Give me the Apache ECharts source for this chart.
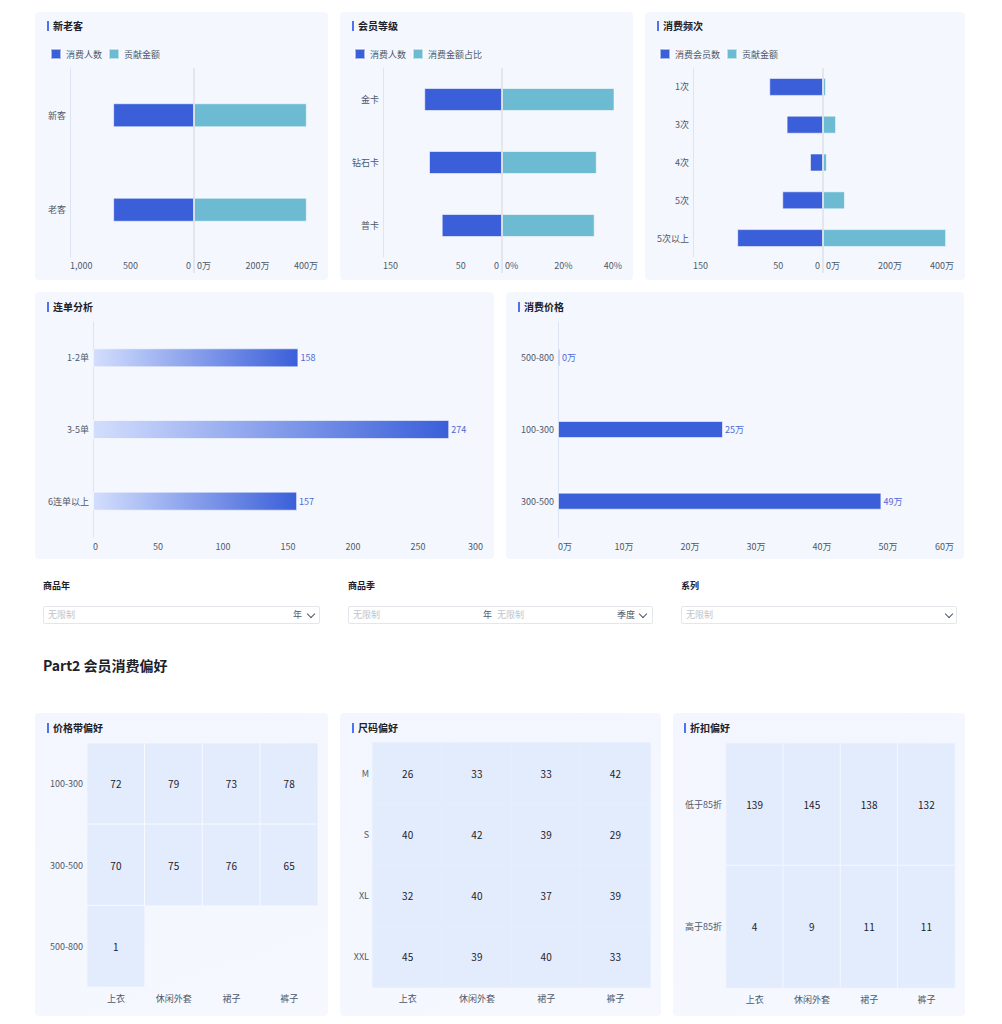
<!DOCTYPE html>
<html>
<head>
<meta charset="utf-8">
<script src="https://cdn.jsdelivr.net/npm/echarts@6/dist/echarts.min.js"></script>
<style>
html,body{margin:0;padding:0;background:#fff;}
#page{position:relative;width:1002px;height:1024px;overflow:hidden;font-family:"Noto Sans CJK SC","Noto Sans",sans-serif;}
.panel{position:absolute;background:#F4F7FE;border-radius:4px;}
.hpanel{position:absolute;background:linear-gradient(160deg,#F3F6FE 0%,#F6F8FE 100%);border-radius:4px;}
.ttl{position:absolute;font-size:10px;font-weight:bold;line-height:10px;color:#1d2129;border-left:2px solid #4F73F0;padding-left:4px;}
.flab{position:absolute;font-size:9px;font-weight:bold;color:#1d2129;line-height:12px;}
.box{position:absolute;background:#fff;border:1px solid #E5E6EB;border-radius:2px;box-sizing:border-box;}
.ph{position:absolute;font-size:9px;color:#C0C4CC;line-height:12px;}
.unit{position:absolute;font-size:9px;color:#4e5969;line-height:12px;}
.chev{position:absolute;width:5px;height:5px;border-right:1px solid #4e5969;border-bottom:1px solid #4e5969;transform:rotate(45deg);}
.h2{position:absolute;font-size:14px;font-weight:bold;color:#1d2129;line-height:18px;}
#c{position:absolute;left:0;top:0;width:1002px;height:1024px;}
</style>
</head>
<body>
<div id="page">
  <div class="panel" style="left:35px;top:12px;width:293px;height:268px"></div>
  <div class="panel" style="left:340px;top:12px;width:293px;height:268px"></div>
  <div class="panel" style="left:645px;top:12px;width:320px;height:268px"></div>
  <div class="panel" style="left:35px;top:292px;width:459px;height:267px"></div>
  <div class="panel" style="left:506px;top:292px;width:458px;height:267px"></div>
  <div class="hpanel" style="left:35px;top:713px;width:293px;height:303px"></div>
  <div class="hpanel" style="left:340px;top:713px;width:321px;height:303px"></div>
  <div class="hpanel" style="left:673px;top:713px;width:292px;height:303px"></div>

  <div class="ttl" style="left:47px;top:21px">新老客</div>
  <div class="ttl" style="left:352px;top:21px">会员等级</div>
  <div class="ttl" style="left:657px;top:21px">消费频次</div>
  <div class="ttl" style="left:47px;top:302px">连单分析</div>
  <div class="ttl" style="left:518px;top:302px">消费价格</div>
  <div class="ttl" style="left:47px;top:723px">价格带偏好</div>
  <div class="ttl" style="left:352px;top:723px">尺码偏好</div>
  <div class="ttl" style="left:684px;top:723px">折扣偏好</div>

  <div class="flab" style="left:43px;top:580px">商品年</div>
  <div class="flab" style="left:348px;top:580px">商品季</div>
  <div class="flab" style="left:681px;top:580px">系列</div>

  <div class="box" style="left:43px;top:606px;width:277px;height:18px"></div>
  <div class="ph" style="left:48px;top:609px">无限制</div>
  <div class="unit" style="left:293px;top:609px">年</div>
  <div class="chev" style="left:308px;top:611px"></div>

  <div class="box" style="left:348px;top:606px;width:305px;height:18px"></div>
  <div class="ph" style="left:353px;top:609px">无限制</div>
  <div class="unit" style="left:483px;top:609px">年</div>
  <div class="ph" style="left:497px;top:609px">无限制</div>
  <div class="unit" style="left:617px;top:609px">季度</div>
  <div class="chev" style="left:640px;top:611px"></div>

  <div class="box" style="left:681px;top:606px;width:276px;height:18px"></div>
  <div class="ph" style="left:686px;top:609px">无限制</div>
  <div class="chev" style="left:946px;top:611px"></div>

  <div class="h2" style="left:43px;top:656px">Part2 会员消费偏好</div>

  <div id="c"></div>
</div>
<script>
// ---------- data ----------
const newOldCats = ['新客', '老客'];
const newOldCount = [652, 652];
const newOldAmount = [364, 364]; // 万

const levelCats = ['金卡', '钻石卡', '普卡'];
const levelCount = [98, 92, 76];
const levelShare = [37.5, 31.6, 30.9]; // %

const freqCats = ['1次', '3次', '4次', '5次', '5次以上'];
const freqCount = [62, 42, 15, 47, 99];
const freqAmount = [9, 40, 12, 67, 376]; // 万

const comboCats = ['1-2单', '3-5单', '6连单以上'];
const comboValues = [158, 274, 157];

const priceCats = ['500-800', '100-300', '300-500'];
const priceValues = [0.3, 25, 49]; // 万

const products = ['上衣', '休闲外套', '裙子', '裤子'];
const priceBandRows = ['100-300', '300-500', '500-800'];
const priceBandValues = [
  [72, 79, 73, 78],
  [70, 75, 76, 65],
  [1, null, null, null]
];
const sizeRows = ['M', 'S', 'XL', 'XXL'];
const sizeValues = [
  [26, 33, 33, 42],
  [40, 42, 39, 29],
  [32, 40, 37, 39],
  [45, 39, 40, 33]
];
const discountRows = ['低于85折', '高于85折'];
const discountValues = [
  [139, 145, 138, 132],
  [4, 9, 11, 11]
];

// ---------- option building ----------
const FONT = '"Noto Sans CJK SC","Noto Sans",sans-serif';
const AX = '#4e5969';
const DARK = '#3A5FD9';
const TEAL = '#6CBBD3';
const grids = [], xAxes = [], yAxes = [], series = [], legends = [];
const catLabel = { fontSize: 9, color: AX, margin: 4, fontFamily: FONT };

function addGrid(g) {
  grids.push(Object.assign({ containLabel: false, outerBoundsMode: 'none' }, g));
  return grids.length - 1;
}
const barBorder = { borderColor: 'rgba(255,255,255,0.55)', borderWidth: 1 };

function butterfly(o) {
  const gl = addGrid({ left: o.x0, top: 68, width: o.mid - o.x0, height: 189 });
  const gr = addGrid({ left: o.mid, top: 68, width: o.x1 - o.mid, height: 189 });
  xAxes.push({
    gridIndex: gl, type: 'value', inverse: true, min: 0, max: o.lMax, interval: o.lInt,
    axisLine: { show: false }, axisTick: { show: false }, splitLine: { show: false },
    axisLabel: { fontSize: 9, color: AX, margin: 4, fontFamily: FONT, padding: [0, 3, 0, 0],
      alignMinLabel: 'right', alignMaxLabel: 'left', formatter: o.lFmt }
  });
  yAxes.push({
    gridIndex: gl, type: 'category', inverse: true, data: o.cats,
    axisLine: { show: true, onZero: false, lineStyle: { color: '#DCE4F6' } },
    axisTick: { show: false }, axisLabel: catLabel
  });
  xAxes.push({
    gridIndex: gr, type: 'value', min: 0, max: o.rMax, interval: o.rInt,
    axisLine: { show: false }, axisTick: { show: false }, splitLine: { show: false },
    axisLabel: { fontSize: 9, color: AX, margin: 4, fontFamily: FONT, padding: [0, 0, 0, 3],
      alignMinLabel: 'left', alignMaxLabel: 'right', formatter: o.rFmt }
  });
  yAxes.push({
    gridIndex: gr, type: 'category', inverse: true, data: o.cats,
    axisLine: { show: false }, axisTick: { show: false }, axisLabel: { show: false }
  });
  series.push({ type: 'bar', name: o.names[0], xAxisIndex: gl, yAxisIndex: gl, data: o.lVals, barWidth: o.bw,
    itemStyle: Object.assign({ color: DARK }, barBorder), emphasis: { disabled: true } });
  series.push({ type: 'bar', name: o.names[1], xAxisIndex: gr, yAxisIndex: gr, data: o.rVals, barWidth: o.bw,
    itemStyle: Object.assign({ color: TEAL }, barBorder), emphasis: { disabled: true } });
  legends.push({
    left: o.legendX, top: 48, padding: 0, itemWidth: 10, itemHeight: 10, itemGap: 6, icon: 'rect',
    selectedMode: false, data: o.names, textStyle: { fontSize: 9, color: AX, fontFamily: FONT }
  });
}

const wan = v => v + '万';
const comma = v => v.toLocaleString('en-US');
const skip100 = v => (v === 100 ? '' : String(v));

butterfly({ x0: 70, mid: 194, x1: 318, cats: newOldCats, lVals: newOldCount, rVals: newOldAmount,
  lMax: 1000, lInt: 500, rMax: 400, rInt: 200, lFmt: comma, rFmt: wan, names: ['消费人数', '贡献金额'], bw: 24, legendX: 50 });
butterfly({ x0: 383, mid: 502, x1: 622, cats: levelCats, lVals: levelCount, rVals: levelShare,
  lMax: 150, lInt: 50, rMax: 40, rInt: 20, lFmt: skip100, rFmt: v => v + '%', names: ['消费人数', '消费金额占比'], bw: 23, legendX: 354 });
butterfly({ x0: 693, mid: 823, x1: 954, cats: freqCats, lVals: freqCount, rVals: freqAmount,
  lMax: 150, lInt: 50, rMax: 400, rInt: 200, lFmt: skip100, rFmt: wan, names: ['消费会员数', '贡献金额'], bw: 18, legendX: 659 });

function hbar(o) {
  const g = addGrid({ left: o.x0, top: 322, width: o.x1 - o.x0, height: 215 });
  xAxes.push({
    gridIndex: g, type: 'value', min: 0, max: o.max, interval: o.int,
    axisLine: { show: false }, axisTick: { show: false }, splitLine: { show: false },
    axisLabel: { fontSize: 9, color: AX, margin: 5, fontFamily: FONT, alignMinLabel: 'left', alignMaxLabel: 'right', formatter: o.fmt }
  });
  yAxes.push({
    gridIndex: g, type: 'category', inverse: true, data: o.cats,
    axisLine: { show: true, onZero: false, lineStyle: { color: '#DCE4F6' } },
    axisTick: { show: false }, axisLabel: catLabel
  });
  series.push({
    type: 'bar', xAxisIndex: g, yAxisIndex: g, data: o.vals, barWidth: o.bw,
    itemStyle: Object.assign({ color: o.color }, barBorder), emphasis: { disabled: true },
    label: { show: true, position: 'right', distance: 2, fontSize: 9, color: '#4D68D6', fontFamily: FONT, formatter: o.lab }
  });
}

hbar({ x0: 93, x1: 483, cats: comboCats, vals: comboValues, max: 300, int: 50, fmt: v => String(v), bw: 19,
  color: new echarts.graphic.LinearGradient(0, 0, 1, 0, [{ offset: 0, color: '#D3DEFD' }, { offset: 1, color: '#3A5FD9' }]),
  lab: p => String(p.value) });
hbar({ x0: 558, x1: 954, cats: priceCats, vals: priceValues, max: 60, int: 10, fmt: wan, bw: 17, color: DARK,
  lab: p => Math.round(p.value) + '万' });

function heat(o) {
  const g = addGrid({ left: o.x, top: 743, width: o.w, height: o.h });
  xAxes.push({
    gridIndex: g, type: 'category', data: products, position: 'bottom',
    axisLine: { show: false }, axisTick: { show: false }, splitLine: { show: false }, splitArea: { show: false },
    axisLabel: { fontSize: 9, color: AX, margin: 7, fontFamily: FONT }
  });
  yAxes.push({
    gridIndex: g, type: 'category', inverse: true, data: o.rows,
    axisLine: { show: false }, axisTick: { show: false }, splitLine: { show: false }, splitArea: { show: false },
    axisLabel: catLabel
  });
  const d = [];
  o.vals.forEach((row, ri) => row.forEach((v, ci) => { if (v !== null) d.push([ci, ri, v]); }));
  series.push({
    type: 'heatmap', xAxisIndex: g, yAxisIndex: g, data: d,
    label: { show: true, fontSize: 10, color: '#1d2129', fontFamily: FONT },
    itemStyle: { color: '#E3ECFD', borderColor: o.border, borderWidth: 1 },
    emphasis: { disabled: true }
  });
}
heat({ x: 87, w: 231, h: 244, rows: priceBandRows, vals: priceBandValues, border: '#F7F9FE' });
heat({ x: 373, w: 277, h: 244, rows: sizeRows, vals: sizeValues, border: '#E6EEFD' });
heat({ x: 726, w: 229, h: 245, rows: discountRows, vals: discountValues, border: '#F3F6FE' });

const chart = echarts.init(document.getElementById('c'), null, { renderer: 'svg', width: 1002, height: 1024 });
chart.setOption({
  animation: false,
  backgroundColor: 'transparent',
  textStyle: { fontFamily: FONT },
  legend: legends,
  grid: grids,
  xAxis: xAxes,
  yAxis: yAxes,
  series: series,
  graphic: {
    elements: [
      { type: 'line', shape: { x1: 194, y1: 68, x2: 194, y2: 273 }, style: { stroke: '#D3D6DD', lineWidth: 1 }, z: 10 },
      { type: 'line', shape: { x1: 502, y1: 68, x2: 502, y2: 273 }, style: { stroke: '#D3D6DD', lineWidth: 1 }, z: 10 },
      { type: 'line', shape: { x1: 823, y1: 68, x2: 823, y2: 273 }, style: { stroke: '#D3D6DD', lineWidth: 1 }, z: 10 }
    ]
  }
});
</script>
</body>
</html>
